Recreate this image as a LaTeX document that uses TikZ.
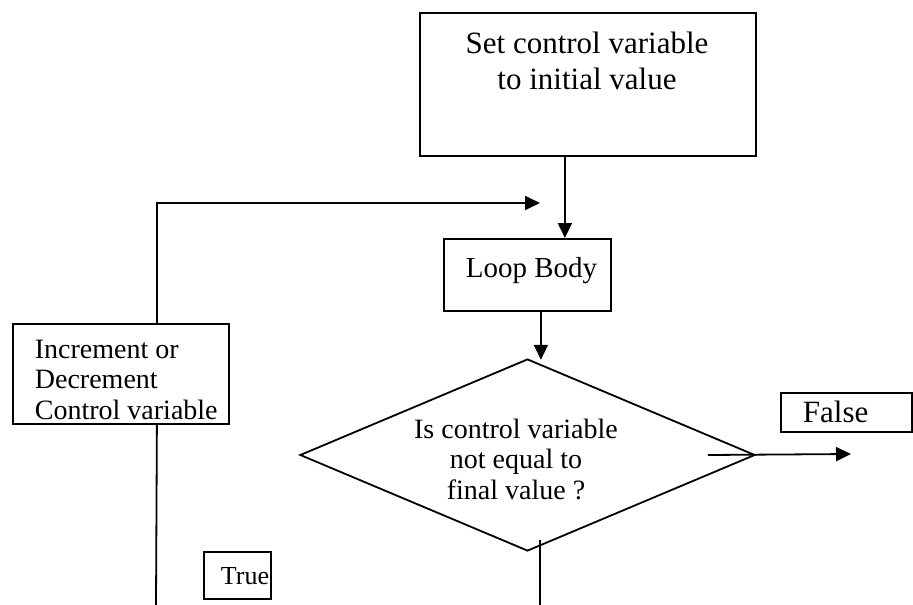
\documentclass[tikz,border=0pt]{standalone}
\usepackage{fontspec}
\setmainfont{Liberation Serif}
\usetikzlibrary{shapes.geometric}
\usetikzlibrary{arrows.meta}

\begin{document}
\begin{tikzpicture}[x=1pt,y=-1pt,>={Triangle[length=15pt,width=14pt]},
	line width=1.8pt,
	box node/.style={draw,rectangle,inner sep=0pt,anchor=north west},
	test node/.style={draw,diamond,inner sep=0pt,aspect=2.37},
	big text/.style={font=\fontsize{31}{36}\selectfont,inner sep=0pt},
	mid text/.style={font=\fontsize{29}{30}\selectfont,inner sep=0pt},
	small text/.style={font=\fontsize{28}{30.5}\selectfont,inner sep=0pt}]
	
	\useasboundingbox (0,0) rectangle (913,605);
	
	% boxes
	\node[box node,minimum width=336pt,minimum height=143pt] (init) at (419,12) {};
	\node[box node,minimum width=167pt,minimum height=72pt] (body) at (443,238) {};
	\node[box node,minimum width=216pt,minimum height=100pt] (inc) at (12,323) {};
	\node[test node,minimum width=455pt,minimum height=192pt] (test) at (527.5,455) {};
	\node[box node,minimum width=131pt,minimum height=39pt] (false) at (780,392) {};
	\node[box node,minimum width=67pt,minimum height=47pt] (true) at (203,551) {};
	
	% texts
	\node[big text,align=center] (initText) at (587,61) {Set control variable\\to initial value};
	\node[mid text,anchor=west] (bodyText) at (465,271) {Loop Body};
	\node[small text,align=left,anchor=north west] (incText) at (34,339) {Increment or\\Decrement\\Control variable};
	\node[small text,align=center] (testText) at (516,459) {Is control variable\\not equal to\\final value ?};
	\node[big text,anchor=west] (falseText) at (802,412) {False};
	\node[mid text,font=\fontsize{26}{30}\selectfont,anchor=west] (trueText) at (220,576) {True};
	
	% free ends
	\coordinate (loopIn) at (540,203);
	\coordinate (falseOut) at (851,454);
	\coordinate (trueOut) at (540,605);
	\coordinate (incOut) at (156,605);
	
	\draw[->] ([xshift=-23pt]init.south) -- ([xshift=-23pt]init.south |- body.north);
	\draw[->] ([xshift=13.5pt]body.south) -- ([xshift=13.5pt,yshift=-48pt]body.south);
	\draw[->] ([xshift=36pt]inc.north) |- (loopIn);
	\draw ([xshift=36pt]inc.south) -- (incOut);
	\draw[->] ([xshift=-48pt]test.east) -- (falseOut);
	\draw ([xshift=12.5pt,yshift=12pt]test.south) -- (trueOut);
\end{tikzpicture}
\end{document}
